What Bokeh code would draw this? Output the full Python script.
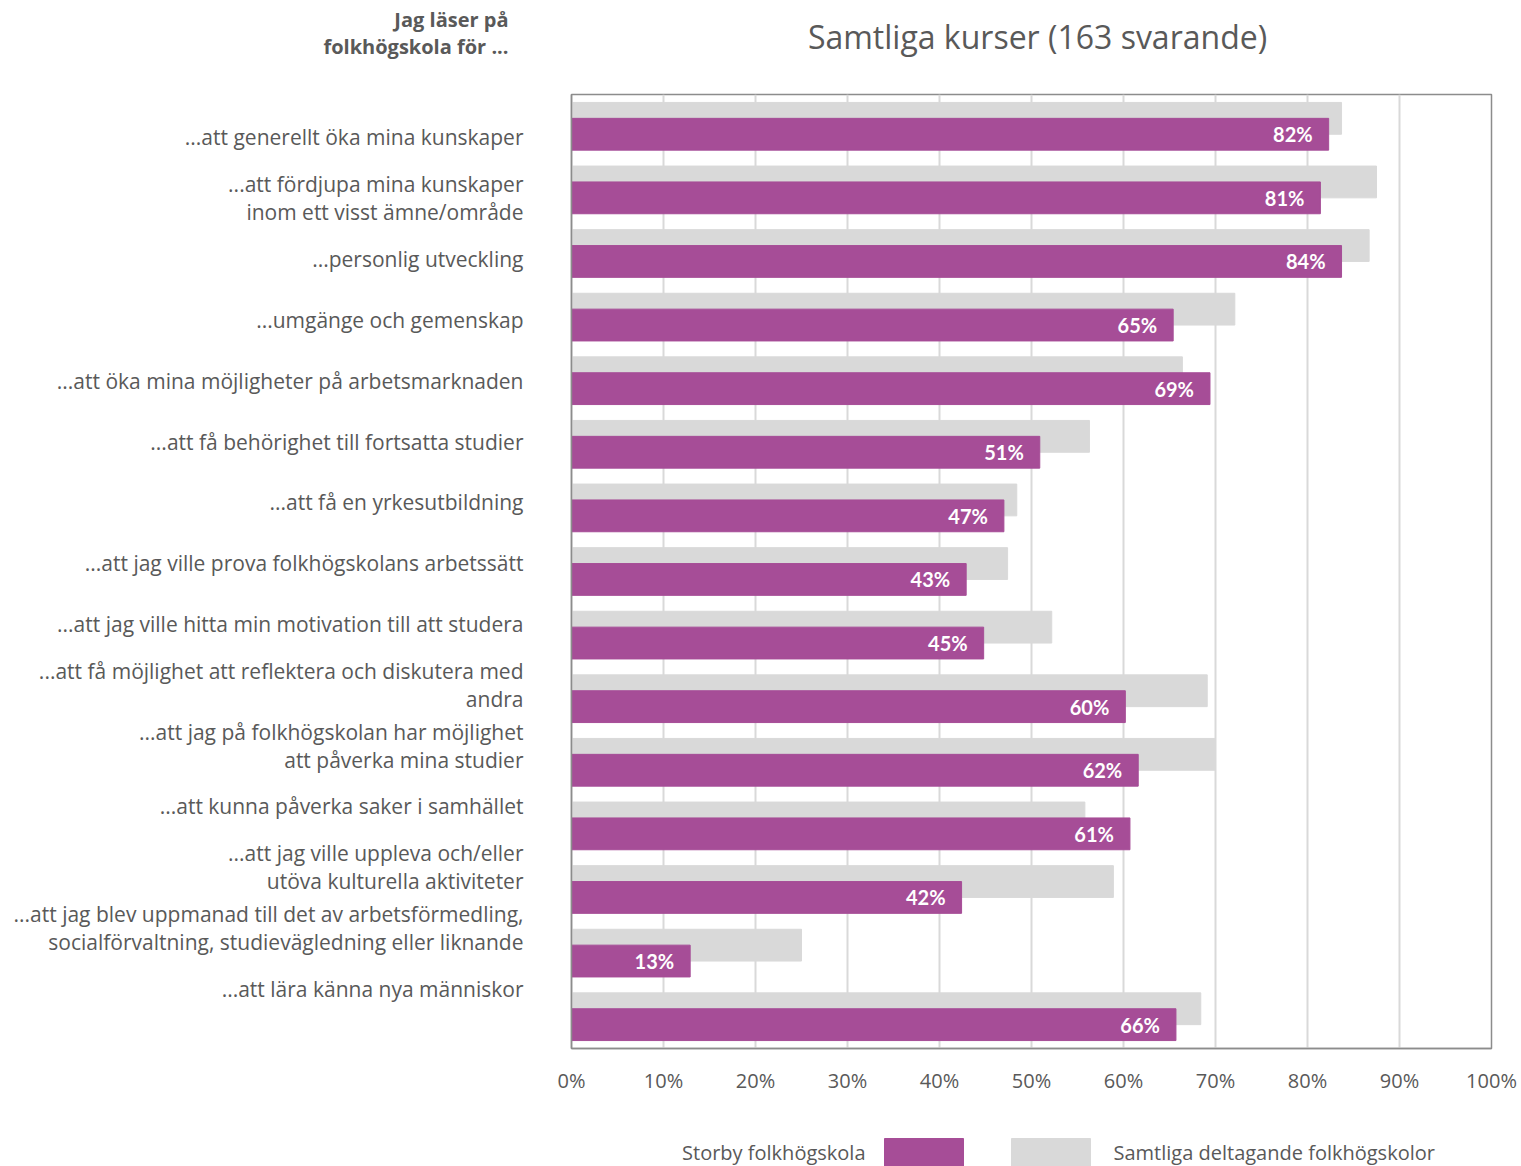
from bokeh.plotting import figure
from bokeh.models import Range1d, FixedTicker, ColumnDataSource
from bokeh.layouts import column
from bokeh.embed import file_html
from bokeh.resources import INLINE
from bokeh.core.properties import value

# ---------------- data ----------------
title_text = "Samtliga kurser (163 svarande)"
header_text = "Jag läser på\nfolkhögskola för ..."
categories = [
    "...att generellt öka mina kunskaper",
    "...att fördjupa mina kunskaper\ninom ett visst ämne/område",
    "...personlig utveckling",
    "...umgänge och gemenskap",
    "...att öka mina möjligheter på arbetsmarknaden",
    "...att få behörighet till fortsatta studier",
    "...att få en yrkesutbildning",
    "...att jag ville prova folkhögskolans arbetssätt",
    "...att jag ville hitta min motivation till att studera",
    "...att få möjlighet att reflektera och diskutera med\nandra",
    "...att jag på folkhögskolan har möjlighet\natt påverka mina studier",
    "...att kunna påverka saker i samhället",
    "...att jag ville uppleva och/eller\nutöva kulturella aktiviteter",
    "...att jag blev uppmanad till det av arbetsförmedling,\nsocialförvaltning, studievägledning eller liknande",
    "...att lära känna nya människor",
]
series_names = ["Storby folkhögskola", "Samtliga deltagande folkhögskolor"]
storby = [82.3, 81.4, 83.7, 65.4, 69.4, 50.9, 47.0, 42.9, 44.8, 60.2, 61.6, 60.7, 42.4, 12.9, 65.7]
storby_labels = ["82%", "81%", "84%", "65%", "69%", "51%", "47%", "43%", "45%",
                 "60%", "62%", "61%", "42%", "13%", "66%"]
samtliga = [83.7, 87.5, 86.7, 72.1, 66.4, 56.3, 48.4, 47.4, 52.2, 69.1, 70.0, 55.8, 58.9, 25.0, 68.4]
x_ticks = [0, 10, 20, 30, 40, 50, 60, 70, 80, 90, 100]
x_tick_labels = ["0%", "10%", "20%", "30%", "40%", "50%", "60%", "70%", "80%", "90%", "100%"]

# ---------------- styling ----------------
FONT = "Open Sans"
BFONT = "Lato"
TEXT = "#595959"
PURPLE = "#A64D97"
GRAY = "#D9D9D9"
BORDER = "#8C8C8C"
W = 1521
BL, BR = 571, 30
FW = W - BL - BR  # frame width in px

n = len(categories)
idx = list(range(n))
src = ColumnDataSource(dict(
    cat=categories,
    storby=storby,
    samtliga=samtliga,
    lab=storby_labels,
    y_gray=[i + 0.375 for i in idx],
    y_purple=[i + 0.625 for i in idx],
))

# ---------------- header ----------------
HH = 88
header = figure(width=W, height=HH, x_range=Range1d(0, FW), y_range=Range1d(HH, 0),
                toolbar_location=None, output_backend="svg",
                min_border_left=BL, min_border_right=BR, min_border_top=0, min_border_bottom=0)
header.xaxis.visible = False
header.grid.visible = False
header.outline_line_color = None
ha = header.yaxis[0]
ha.ticker = FixedTicker(ticks=[32])
ha.major_label_overrides = {32: header_text}
ha.axis_line_color = None
ha.major_tick_line_color = None
ha.minor_tick_line_color = None
ha.major_label_standoff = 57
ha.major_label_text_font = FONT
ha.major_label_text_font_size = "20px"
ha.major_label_text_font_style = "bold"
ha.major_label_text_color = TEXT
ha.major_label_text_align = "right"
ha.major_label_text_line_height = 1.0
header.text(x=[FW / 2 + 6], y=[36], text=[title_text], text_align="center", text_baseline="middle",
            text_font=value(FONT), text_font_size="32px", text_color=TEXT)

# ---------------- main chart ----------------
BT, BB = 6, 60
FH = 954
p = figure(width=W, height=BT + FH + BB, x_range=Range1d(0, 100), y_range=Range1d(n, 0),
           toolbar_location=None, output_backend="svg",
           min_border_left=BL, min_border_right=BR, min_border_top=BT, min_border_bottom=BB)

p.hbar(y="y_gray", right="samtliga", left=0, height=0.5, color=GRAY, source=src)
p.hbar(y="y_purple", right="storby", left=0, height=0.5, color=PURPLE, source=src)
p.text(x="storby", y="y_purple", text="lab", source=src, text_align="right", text_baseline="middle",
       x_offset=-16, text_color="white", text_font=value(BFONT), text_font_size="20px",
       text_font_style="bold")

p.outline_line_color = BORDER
p.outline_line_width = 1.5
p.ygrid.visible = False
p.xgrid.ticker = FixedTicker(ticks=x_ticks)
p.xgrid.grid_line_color = GRAY
p.xgrid.grid_line_width = 2

xa = p.xaxis[0]
xa.ticker = FixedTicker(ticks=x_ticks)
xa.major_label_overrides = {t: l for t, l in zip(x_ticks, x_tick_labels)}
xa.major_tick_line_color = None
xa.minor_tick_line_color = None
xa.axis_line_color = BORDER
xa.axis_line_width = 1.5
xa.major_label_standoff = 12
xa.major_label_text_font = FONT
xa.major_label_text_font_size = "20px"
xa.major_label_text_color = TEXT

# category labels are spaced slightly tighter than the bars, as in the original
label_pos = [round(0.676 + 0.956 * i, 4) for i in idx]
ya = p.yaxis[0]
ya.ticker = FixedTicker(ticks=label_pos)
ya.major_label_overrides = {t: c for t, c in zip(label_pos, categories)}
ya.major_tick_line_color = None
ya.minor_tick_line_color = None
ya.axis_line_color = BORDER
ya.axis_line_width = 1.5
ya.major_label_standoff = 42
ya.major_label_text_font = FONT
ya.major_label_text_font_size = "21px"
ya.major_label_text_color = TEXT
ya.major_label_text_line_height = 1.0
ya.major_label_text_align = "right"

# ---------------- legend ----------------
LH = 58
leg = figure(width=W, height=LH, x_range=Range1d(0, FW), y_range=Range1d(LH, 0),
             toolbar_location=None, output_backend="svg",
             min_border_left=BL, min_border_right=BR, min_border_top=0, min_border_bottom=0)
leg.axis.visible = False
leg.grid.visible = False
leg.outline_line_color = None
leg.quad(left=[313], right=[392], top=[30], bottom=[LH], color=PURPLE)
leg.quad(left=[440], right=[519], top=[30], bottom=[LH], color=GRAY)
leg.text(x=[294], y=[44], text=[series_names[0]], text_align="right", text_baseline="middle",
         text_font=value(FONT), text_font_size="20px", text_color=TEXT)
leg.text(x=[542], y=[44], text=[series_names[1]], text_align="left", text_baseline="middle",
         text_font=value(FONT), text_font_size="20px", text_color=TEXT)

layout = column(header, p, leg, spacing=0)
open("out.html", "w").write(file_html(layout, INLINE))
